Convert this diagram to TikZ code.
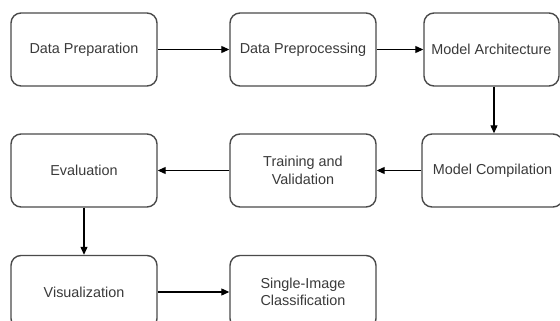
\documentclass[tikz,border=0pt]{standalone}
\usepackage{fontspec}
\setmainfont{Liberation Sans}
\usetikzlibrary{arrows.meta}
\definecolor{boxline}{HTML}{4A4A4A}
\definecolor{txt}{HTML}{3A3A3A}
\begin{document}
\begin{tikzpicture}[x=1pt,y=-1pt,
  stepbox/.style={draw=boxline, line width=1.4pt, rounded corners=10pt, minimum width=146pt, minimum height=73pt, inner sep=0pt, align=center, font=\fontsize{14.4}{17.5}\selectfont, text=txt},
  conn/.style={-{Triangle[length=8pt,width=7pt]}, line width=1.1pt, black}]
\useasboundingbox (0,0) rectangle (560,321);
\fill[white] (0,0) rectangle (560,321);
\clip (0,0) rectangle (560,321);
\node[stepbox] (prep) at (84,49.5) {Data Preparation};
\node[stepbox] (preproc) at (303,49.5) {Data Preprocessing};
\node[stepbox, minimum width=135pt] (arch) at (491.5,49.5) {Model Architecture};
\node[stepbox] (eval) at (84,170.5) {Evaluation};
\node[stepbox] (train) at (303,170.5) {Training and\\Validation};
\node[stepbox, minimum width=141pt] (comp) at (492.5,170.5) {Model Compilation};
\node[stepbox] (vis) at (84,292) {Visualization};
\node[stepbox] (single) at (303,292) {Single-Image\\Classification};
\draw[conn] (prep) -- (preproc);
\draw[conn] (preproc) -- (arch);
\draw[conn] ([xshift=2.5pt]arch.south) -- ([xshift=1.5pt]comp.north);
\draw[conn] (comp) -- (train);
\draw[conn] (train) -- (eval);
\draw[conn] (eval) -- (vis);
\draw[conn] (vis) -- (single);
\end{tikzpicture}
\end{document}
